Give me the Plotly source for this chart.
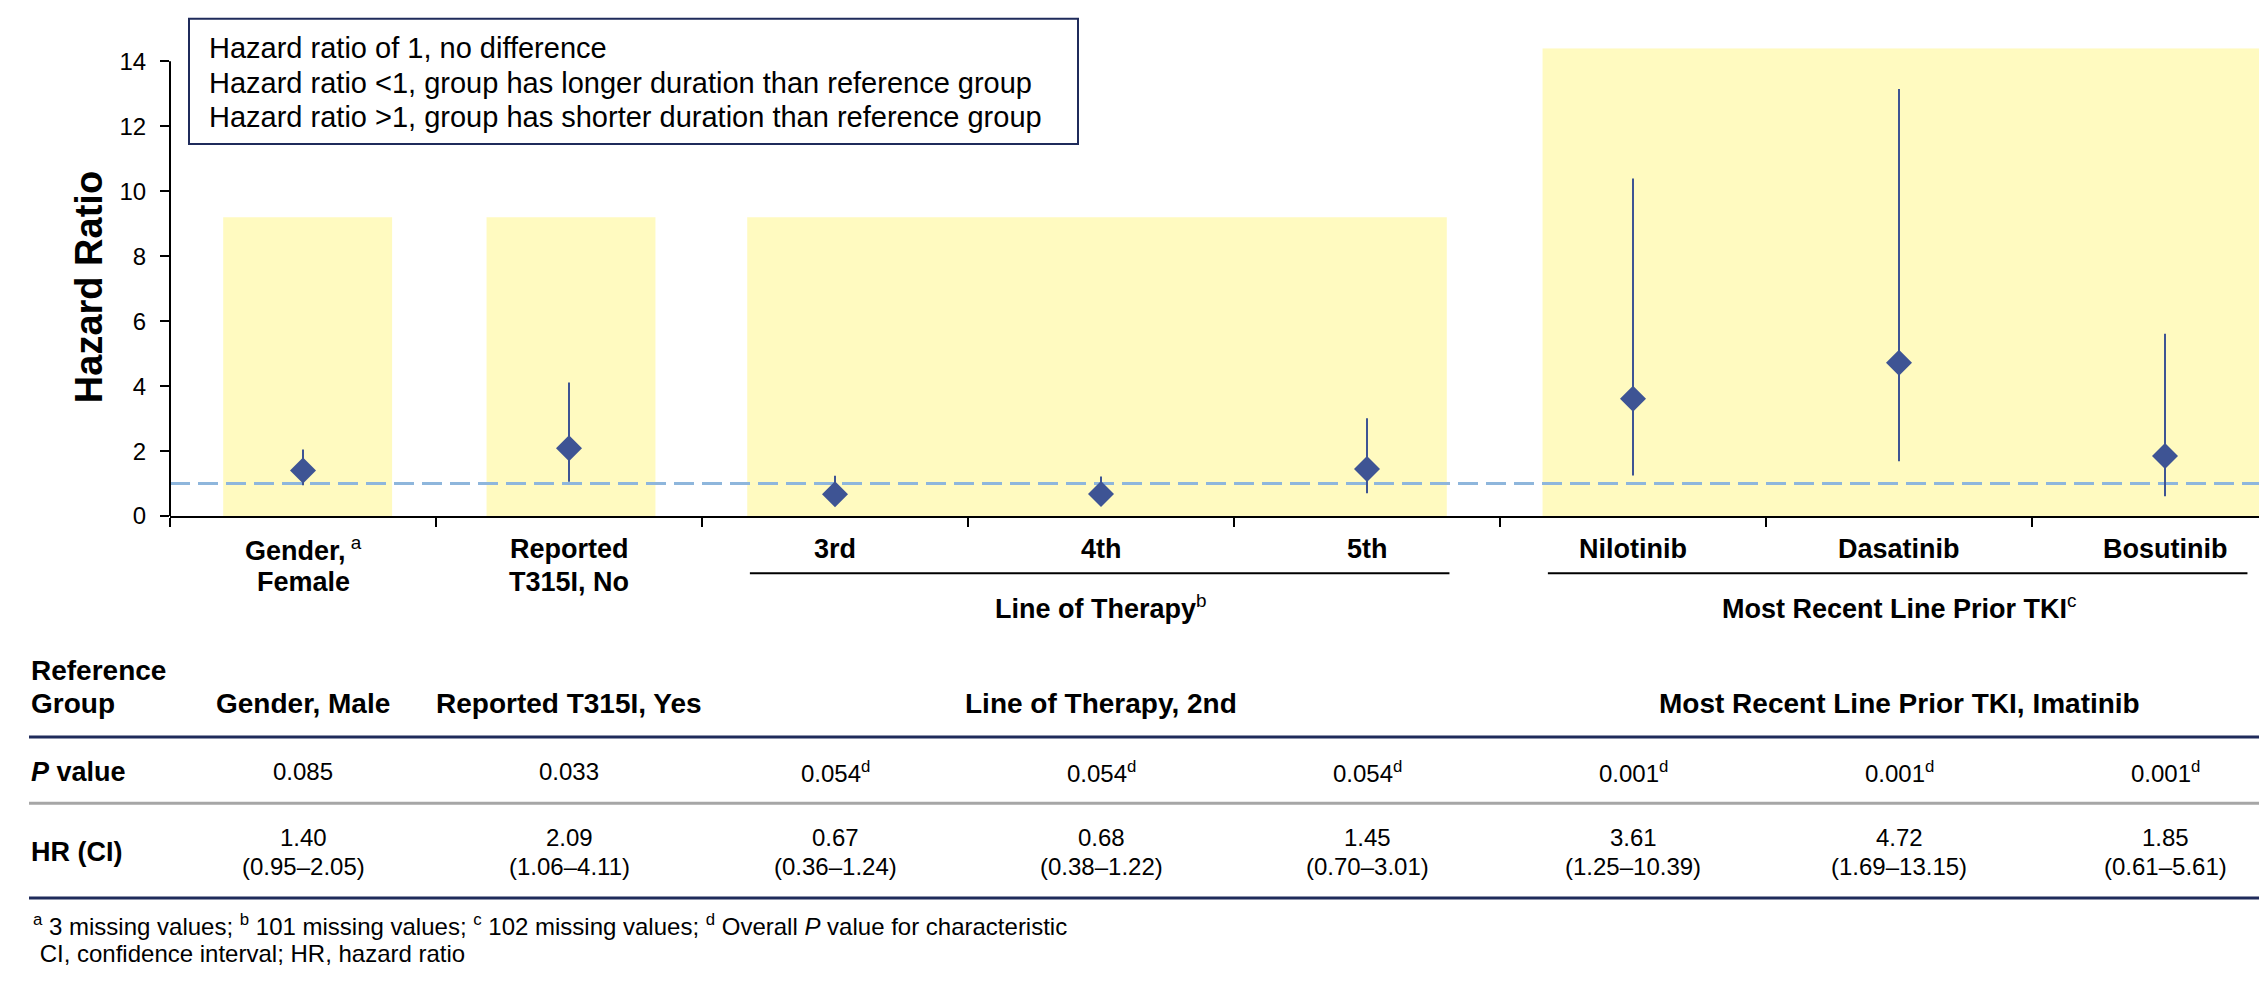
import plotly.graph_objects as go

# ---- data -----------------------------------------------------------------
categories = [
    "Gender,<sup> a</sup><br>Female",
    "Reported<br>T315I, No",
    "3rd",
    "4th",
    "5th",
    "Nilotinib",
    "Dasatinib",
    "Bosutinib",
]
hazard_ratio = [1.40, 2.09, 0.67, 0.68, 1.45, 3.61, 4.72, 1.85]
ci_lower = [0.95, 1.06, 0.36, 0.38, 0.70, 1.25, 1.69, 0.61]
ci_upper = [2.05, 4.11, 1.24, 1.22, 3.01, 10.39, 13.15, 5.61]
p_values = ["0.085", "0.033", "0.054", "0.054", "0.054", "0.001", "0.001", "0.001"]
p_overall = [False, False, True, True, True, True, True, True]

# grouped characteristics (first and last category index of each group)
group_names = ["Line of Therapy<sup>b</sup>", "Most Recent Line Prior TKI<sup>c</sup>"]
group_first = [2, 5]
group_last = [4, 7]

# reference group for each characteristic (centred over its categories)
ref_names = ["Gender, Male", "Reported T315I, Yes", "Line of Therapy, 2nd",
             "Most Recent Line Prior TKI, Imatinib"]
ref_first = [0, 1, 2, 5]
ref_last = [0, 1, 4, 7]

y_ticks = [0, 2, 4, 6, 8, 10, 12, 14]

legend_lines = [
    "Hazard ratio of 1, no difference",
    "Hazard ratio <1, group has longer duration than reference group",
    "Hazard ratio >1, group has shorter duration than reference group",
]
footnotes = [
    "<sup>a</sup> 3 missing values; <sup>b</sup> 101 missing values; "
    "<sup>c</sup> 102 missing values; <sup>d</sup> Overall <i>P</i> value for characteristic",
    " CI, confidence interval; HR, hazard ratio",
]

# ---- styling --------------------------------------------------------------
W, H = 2259, 982
FONT = "Arial, Liberation Sans, sans-serif"
NAVY = "#1F2B5B"
MARK = "#3E5494"
BAND = "#FFFAC0"
REFLINE = "#8EB6DC"
GREY = "#A6A6A6"
X_MAX = -0.5 + (W - 170) / 266

# shaded panels behind each characteristic: (x0, x1, top)
panels = [(-0.30, 0.335, 9.2), (0.69, 1.325, 9.2), (1.67, 4.30, 9.2), (4.66, X_MAX + 0.5, 14.4)]


def fx(p):
    return p / W


def fy(p):
    return 1 - p / H


x_idx = list(range(len(categories)))

fig = go.Figure()

fig.add_trace(go.Scatter(
    x=x_idx,
    y=hazard_ratio,
    mode="markers",
    marker=dict(symbol="diamond", size=20, color=MARK, line=dict(width=0)),
    error_y=dict(
        type="data",
        symmetric=False,
        array=[u - h for u, h in zip(ci_upper, hazard_ratio)],
        arrayminus=[h - l for h, l in zip(hazard_ratio, ci_lower)],
        color=MARK,
        thickness=2,
        width=0,
    ),
    hoverinfo="skip",
    showlegend=False,
    cliponaxis=False,
))

shapes = []
for x0, x1, top in panels:
    shapes.append(dict(type="rect", xref="x", yref="y", x0=x0, x1=x1, y0=0, y1=top,
                       fillcolor=BAND, line=dict(width=0), layer="below"))

# reference line at HR = 1 (over the panels, under the markers)
shapes.append(dict(type="line", xref="x", yref="y", x0=-0.5, x1=X_MAX + 0.5, y0=1, y1=1,
                   line=dict(color=REFLINE, width=3, dash="20px,8px"), layer="below"))

# y axis line up to the last tick
shapes.append(dict(type="line", xref="x domain", yref="y", x0=0, x1=0, y0=0, y1=y_ticks[-1],
                   line=dict(color="black", width=2)))

# explanatory box
shapes.append(dict(type="rect", xref="paper", yref="paper",
                   x0=fx(189), x1=fx(1078), y0=fy(146), y1=fy(19),
                   line=dict(color=NAVY, width=2), fillcolor="white"))

# underline of grouped characteristics
for g0, g1 in zip(group_first, group_last):
    shapes.append(dict(type="line", xref="x", yref="paper", x0=g0 - 0.32, x1=g1 + 0.31,
                       y0=fy(581), y1=fy(581), line=dict(color="black", width=2)))

# table rules
for yy, col, wd in [(747, NAVY, 3), (814, GREY, 3), (910, NAVY, 3)]:
    shapes.append(dict(type="line", xref="paper", yref="paper", x0=fx(29), x1=1,
                       y0=fy(yy), y1=fy(yy), line=dict(color=col, width=wd)))

ann = []


def text(x, y, s, size, xref="paper", xanchor="center", bold=False, angle=0):
    ann.append(dict(
        x=x, y=y, xref=xref, yref="paper", text=f"<b>{s}</b>" if bold else s,
        showarrow=False, xanchor=xanchor, yanchor="middle", textangle=angle,
        font=dict(family=FONT, size=size, color="black"),
    ))


# legend box lines
for i, line in enumerate(legend_lines):
    text(fx(207), fy([49, 84, 119][i]), line, 29, xanchor="left")

# y axis title
text(fx(89), fy(291), "Hazard Ratio", 38, bold=True, angle=-90)

# category labels under the axis
for i, lab in enumerate(categories):
    parts = lab.split("<br>")
    for j, part in enumerate(parts):
        if "<sup>" in part:
            head, sup = part.split("<sup>")
            s = f"<b>{head}</b><sup>{sup}"
        else:
            s = f"<b>{part}</b>"
        text(i, fy([556, 590][j]), s, 27, xref="x")

# group names
for name, g0, g1 in zip(group_names, group_first, group_last):
    head, sup = name.split("<sup>")
    text((g0 + g1) / 2, fy(615), f"<b>{head}</b><sup>{sup}", 27, xref="x")

# table: reference group row
text(fx(29), fy(679), "Reference", 28, xanchor="left", bold=True)
text(fx(29), fy(713), "Group", 28, xanchor="left", bold=True)
for name, r0, r1 in zip(ref_names, ref_first, ref_last):
    text((r0 + r1) / 2, fy(713), name, 28, xref="x", bold=True)

# table: P value row
text(fx(29), fy(782), "<i>P</i> value", 27, xanchor="left", bold=True)
for i, (p, ov) in enumerate(zip(p_values, p_overall)):
    text(i, fy(782), p + ("<sup>d</sup>" if ov else ""), 24, xref="x")

# table: HR (CI) row
text(fx(29), fy(863), "HR (CI)", 27, xanchor="left", bold=True)
for i, (h, lo, hi) in enumerate(zip(hazard_ratio, ci_lower, ci_upper)):
    text(i, fy(849), f"{h:.2f}", 24, xref="x")
    text(i, fy(878), f"({lo:.2f}\u2013{hi:.2f})", 24, xref="x")

# footnotes
text(fx(31), fy(937), footnotes[0], 24, xanchor="left")
text(fx(31), fy(966), footnotes[1], 24, xanchor="left")

fig.update_layout(
    width=W, height=H,
    margin=dict(l=0, r=0, t=0, b=0),
    paper_bgcolor="white", plot_bgcolor="white",
    shapes=shapes, annotations=ann,
    font=dict(family=FONT, color="black"),
    xaxis=dict(
        domain=[fx(170), 1],
        range=[-0.5, X_MAX],
        tickvals=[i - 0.5 for i in range(len(categories) + 1)],
        showticklabels=False,
        ticks="outside", ticklen=9, tickwidth=2, tickcolor="black",
        showline=True, linecolor="black", linewidth=2,
        showgrid=False, zeroline=False, fixedrange=True,
    ),
    yaxis=dict(
        domain=[fy(523), fy(49)],
        range=[0, 14.4],
        tickvals=y_ticks,
        ticks="outside", ticklen=9, tickwidth=2, tickcolor="black",
        tickfont=dict(family=FONT, size=24, color="black"),
        ticklabelstandoff=9,
        showline=False, showgrid=False, zeroline=False, fixedrange=True,
    ),
)

fig.write_html("out.html")
